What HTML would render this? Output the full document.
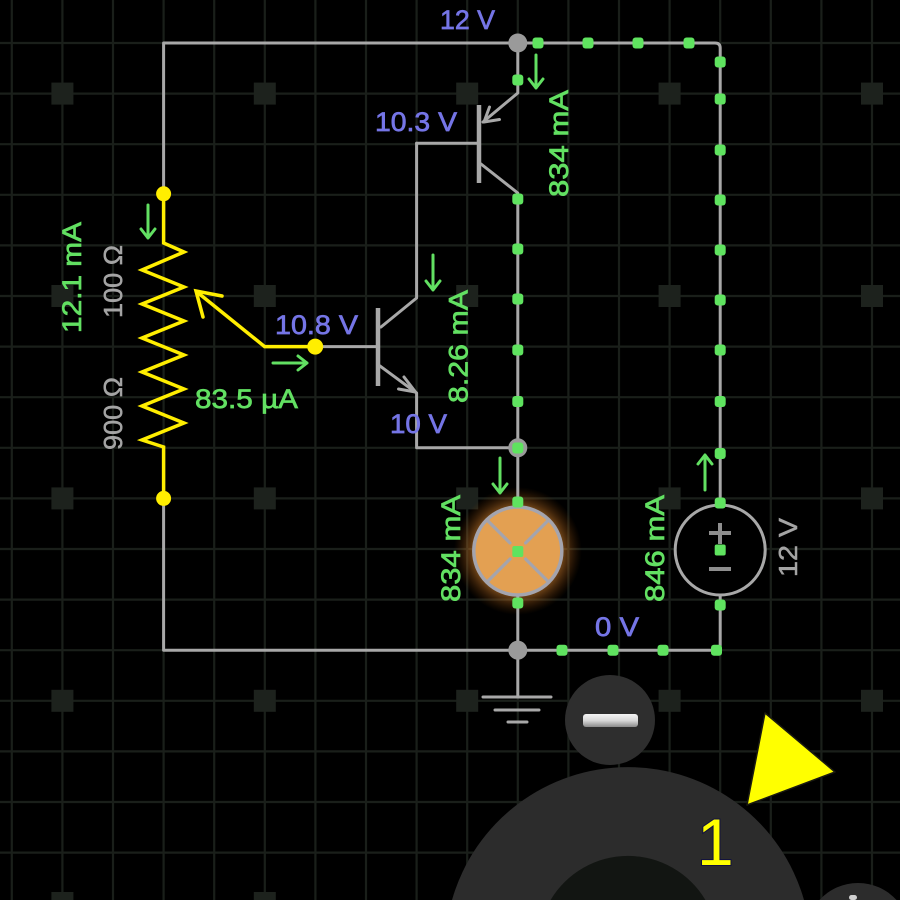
<!DOCTYPE html>
<html><head><meta charset="utf-8"><style>
html,body{margin:0;padding:0;background:#000;width:900px;height:900px;overflow:hidden;}
svg{display:block;overflow:hidden}
text{font-family:"Liberation Sans",sans-serif;}
</style></head><body>
<svg width="900" height="900" viewBox="0 0 900 900" xmlns="http://www.w3.org/2000/svg">
<defs>
<radialGradient id="glow" cx="0.5" cy="0.5" r="0.5">
<stop offset="0.55" stop-color="#e8983c" stop-opacity="0.85"/>
<stop offset="0.8" stop-color="#b86a20" stop-opacity="0.35"/>
<stop offset="1" stop-color="#803c00" stop-opacity="0"/>
</radialGradient>
<linearGradient id="bar" x1="0" y1="0" x2="0" y2="1">
<stop offset="0" stop-color="#f4f4f4"/>
<stop offset="0.5" stop-color="#d8d8d8"/>
<stop offset="1" stop-color="#8a8a8a"/>
</linearGradient>
</defs>
<rect width="900" height="900" fill="#000"/>
<!-- grid -->
<path stroke="#1a1f1a" stroke-width="2.2" fill="none" d="M11.8 0V900M62.4 0V900M113 0V900M163.6 0V900M214.2 0V900M264.8 0V900M315.4 0V900M366 0V900M416.6 0V900M467.2 0V900M517.8 0V900M568.4 0V900M619 0V900M669.6 0V900M720.2 0V900M770.8 0V900M821.4 0V900M872 0V900
M0 43H900M0 93.6H900M0 144.2H900M0 194.8H900M0 245.4H900M0 296H900M0 346.6H900M0 397.2H900M0 447.8H900M0 498.4H900M0 549H900M0 599.6H900M0 650.2H900M0 700.8H900M0 751.4H900M0 802H900M0 852.6H900"/>
<g fill="#1d221d">
<rect x="51.4" y="82.6" width="22" height="22"/><rect x="253.8" y="82.6" width="22" height="22"/><rect x="456.2" y="82.6" width="22" height="22"/><rect x="658.6" y="82.6" width="22" height="22"/><rect x="861" y="82.6" width="22" height="22"/>
<rect x="51.4" y="285" width="22" height="22"/><rect x="253.8" y="285" width="22" height="22"/><rect x="456.2" y="285" width="22" height="22"/><rect x="658.6" y="285" width="22" height="22"/><rect x="861" y="285" width="22" height="22"/>
<rect x="51.4" y="487.4" width="22" height="22"/><rect x="253.8" y="487.4" width="22" height="22"/><rect x="456.2" y="487.4" width="22" height="22"/><rect x="658.6" y="487.4" width="22" height="22"/><rect x="861" y="487.4" width="22" height="22"/>
<rect x="51.4" y="689.8" width="22" height="22"/><rect x="253.8" y="689.8" width="22" height="22"/><rect x="456.2" y="689.8" width="22" height="22"/><rect x="658.6" y="689.8" width="22" height="22"/><rect x="861" y="689.8" width="22" height="22"/>
<rect x="51.4" y="892" width="22" height="8"/><rect x="253.8" y="892" width="22" height="8"/><rect x="456.2" y="892" width="22" height="8"/><rect x="658.6" y="892" width="22" height="8"/><rect x="861" y="892" width="22" height="8"/>
</g>

<!-- lamp glow -->
<circle cx="517.8" cy="551" r="64" fill="url(#glow)"/>

<!-- wires -->
<g stroke="#a8a8a8" stroke-width="3" fill="none" stroke-linecap="round" stroke-linejoin="round">
<path d="M163.6 193.8V43H715Q720.2 43 720.2 48V505"/>
<path d="M720.2 595V645Q720.2 650.2 715 650.2H163.6V498.4"/>
<path d="M517.8 43V93L483 122"/>
<path d="M481 164L517.8 193V508"/>
<path d="M517.8 596V697"/>
<path d="M416.6 143.2H479"/>
<path d="M416.6 143.2V298L381 327"/>
<path d="M380 366L416.6 393V447.8H517.8"/>
<path d="M323 346.6H378"/>
<path d="M489.5 107L484 122L499.5 119.5"/>
<path d="M404 377L415.5 392L398.5 389"/>
<path d="M483 697H551M495 710H539M508 722H527"/>
</g>
<g stroke="#a8a8a8" stroke-width="4.5" fill="none">
<path d="M479 105V183"/>
<path d="M378 308V386"/>
</g>

<!-- junctions -->
<g fill="#9a9a9a">
<circle cx="517.8" cy="43" r="9.5"/>
<circle cx="517.8" cy="447.8" r="9.5"/>
<circle cx="517.8" cy="650.2" r="9.5"/>
</g>

<!-- lamp -->
<circle cx="517.8" cy="551" r="44" fill="#e3a052" stroke="#a4a4ae" stroke-width="3.5"/>
<g stroke="#a4a4ae" stroke-width="3.2" stroke-linecap="round">
<path d="M487 520L510 543M548.6 520L525.6 543M487 582L510 559M548.6 582L525.6 559"/>
</g>

<!-- voltage source -->
<circle cx="720.2" cy="550" r="45" fill="#000" stroke="#a8a8a8" stroke-width="3"/>
<g stroke="#8e8e8e" stroke-width="4">
<path d="M709 533H731M720 523V544"/>
<path d="M709 569H731"/>
</g>

<!-- potentiometer -->
<g stroke="#ffee00" stroke-width="3.5" fill="none" stroke-linejoin="miter" stroke-linecap="round">
<path d="M163.6 193.8V243L184 252L142 270L184 287L142 304L184 321L142 338L184 355L142 372L184 389L142 406L184 423L142 440L163.6 447V498.4"/>
<path d="M315.2 346.6H264.6L197 292"/>
<path d="M222 296L196 291L203 317"/>
</g>
<g fill="#ffee00">
<circle cx="163.6" cy="193.8" r="7.5"/>
<circle cx="163.6" cy="498.4" r="7.5"/>
<circle cx="315.2" cy="346.6" r="8"/>
</g>

<!-- green dots -->
<g fill="#5fe35f">
<rect x="532.5" y="37.5" width="11" height="11" rx="3"/>
<rect x="582.5" y="37.5" width="11" height="11" rx="3"/>
<rect x="632.5" y="37.5" width="11" height="11" rx="3"/>
<rect x="683.5" y="37.5" width="11" height="11" rx="3"/>
<rect x="714.7" y="56.5" width="11" height="11" rx="3"/>
<rect x="714.7" y="93.5" width="11" height="11" rx="3"/>
<rect x="714.7" y="144.5" width="11" height="11" rx="3"/>
<rect x="714.7" y="194.5" width="11" height="11" rx="3"/>
<rect x="714.7" y="244.5" width="11" height="11" rx="3"/>
<rect x="714.7" y="294.5" width="11" height="11" rx="3"/>
<rect x="714.7" y="344.5" width="11" height="11" rx="3"/>
<rect x="714.7" y="396" width="11" height="11" rx="3"/>
<rect x="714.7" y="448" width="11" height="11" rx="3"/>
<rect x="714.7" y="497.5" width="11" height="11" rx="3"/>
<rect x="714.7" y="544.5" width="11" height="11" rx="2"/>
<rect x="714.7" y="599.5" width="11" height="11" rx="3"/>
<rect x="711" y="644.7" width="11" height="11" rx="3"/>
<rect x="556.5" y="644.7" width="11" height="11" rx="3"/>
<rect x="607.5" y="644.7" width="11" height="11" rx="3"/>
<rect x="657.5" y="644.7" width="11" height="11" rx="3"/>
<rect x="512.3" y="74.5" width="11" height="11" rx="3"/>
<rect x="512.3" y="193.5" width="11" height="11" rx="3"/>
<rect x="512.3" y="243.5" width="11" height="11" rx="3"/>
<rect x="512.3" y="293.5" width="11" height="11" rx="3"/>
<rect x="512.3" y="344.5" width="11" height="11" rx="3"/>
<rect x="512.3" y="396" width="11" height="11" rx="3"/>
<rect x="512.3" y="442.5" width="11" height="11" rx="3"/>
<rect x="512.3" y="496.5" width="11" height="11" rx="3"/>
<rect x="512.3" y="546" width="11" height="11" rx="2"/>
<rect x="512.3" y="597.5" width="11" height="11" rx="3"/>
</g>

<!-- current arrows -->
<g stroke="#62e062" stroke-width="3" fill="none" stroke-linecap="round" stroke-linejoin="round">
<path d="M148 205V238M141 229L148 238L155 229"/>
<path d="M273 363H307M298 356L307 363L298 370"/>
<path d="M536 55V88M529 79L536 88L543 79"/>
<path d="M433 255V290M426 281L433 290L440 281"/>
<path d="M500 458V493M493 484L500 493L507 484"/>
<path d="M705 490V455M698 464L705 455L712 464"/>
</g>

<!-- voltage labels -->
<g fill="#7575e6" stroke="#7575e6" stroke-width="0.7" font-size="27">
<text x="440" y="29" textLength="55" lengthAdjust="spacingAndGlyphs">12 V</text>
<text x="375" y="131" textLength="82" lengthAdjust="spacingAndGlyphs">10.3 V</text>
<text x="275" y="334" textLength="83" lengthAdjust="spacingAndGlyphs">10.8 V</text>
<text x="390" y="433" textLength="57" lengthAdjust="spacingAndGlyphs">10 V</text>
<text x="595" y="636" textLength="44" lengthAdjust="spacingAndGlyphs">0 V</text>
</g>
<g fill="#62e062" stroke="#62e062" stroke-width="0.7" font-size="27">
<text x="195" y="408" textLength="103" lengthAdjust="spacingAndGlyphs">83.5 µA</text>
<g transform="translate(558.5,143.5) rotate(-90)"><text x="0" y="9.5" text-anchor="middle" textLength="107" lengthAdjust="spacingAndGlyphs">834 mA</text></g>
<g transform="translate(458,346.5) rotate(-90)"><text x="0" y="9.5" text-anchor="middle" textLength="113" lengthAdjust="spacingAndGlyphs">8.26 mA</text></g>
<g transform="translate(71.5,277.5) rotate(-90)"><text x="0" y="9.5" text-anchor="middle" textLength="111" lengthAdjust="spacingAndGlyphs">12.1 mA</text></g>
<g transform="translate(450.5,548.5) rotate(-90)"><text x="0" y="9.5" text-anchor="middle" textLength="107" lengthAdjust="spacingAndGlyphs">834 mA</text></g>
<g transform="translate(654.5,548.5) rotate(-90)"><text x="0" y="9.5" text-anchor="middle" textLength="107" lengthAdjust="spacingAndGlyphs">846 mA</text></g>
</g>
<g fill="#a4a4a4" stroke="#a4a4a4" stroke-width="0.5" font-size="26">
<g transform="translate(112.5,281.5) rotate(-90)"><text x="0" y="9.5" text-anchor="middle" textLength="73" lengthAdjust="spacingAndGlyphs">100 Ω</text></g>
<g transform="translate(112.5,413.5) rotate(-90)"><text x="0" y="9.5" text-anchor="middle" textLength="73" lengthAdjust="spacingAndGlyphs">900 Ω</text></g>
<g transform="translate(787.5,547.5) rotate(-90)"><text x="0" y="9.5" text-anchor="middle" textLength="59" lengthAdjust="spacingAndGlyphs">12 V</text></g>
</g>

<!-- bottom UI controls -->
<circle cx="610" cy="720" r="45" fill="#2e2e2e"/>
<rect x="583" y="714" width="55" height="13" rx="3" fill="url(#bar)"/>
<path d="M452 900A183 183 0 0 1 804 900Z" fill="#2c2c2c"/>
<path d="M550.6 900A90 90 0 0 1 705.4 900Z" fill="#121512"/>
<path d="M819.5 900A52 52 0 0 1 896.5 900Z" fill="#2c2c2c"/>
<rect x="849" y="895" width="8" height="5" rx="2.5" fill="#cfcfcf"/>
<polygon points="765,713 835,772 747,805" fill="#ffff00" stroke="#1a1a10" stroke-width="1.5" stroke-linejoin="round"/>
<text x="697" y="865" font-size="66" fill="#ffff00" stroke="#101040" stroke-width="2" paint-order="stroke">1</text>
</svg>
</body></html>
